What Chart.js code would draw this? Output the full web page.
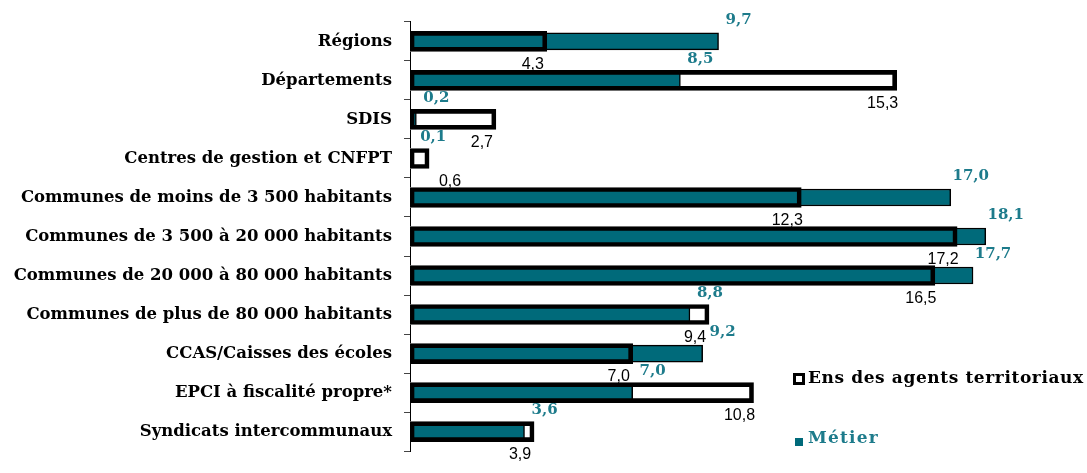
<!DOCTYPE html>
<html>
<head>
<meta charset="utf-8">
<script src="https://cdn.jsdelivr.net/npm/chart.js@4"></script>
<style>
  html, body { margin: 0; padding: 0; background: #fff; }
</style>
</head>
<body>
<canvas id="metierChart" width="1087" height="473"></canvas>
<script>
// data (%)
const categories = [
  'Régions',
  'Départements',
  'SDIS',
  'Centres de gestion et CNFPT',
  'Communes de moins de 3 500 habitants',
  'Communes de 3 500 à 20 000 habitants',
  'Communes de 20 000 à 80 000 habitants',
  'Communes de plus de 80 000 habitants',
  'CCAS/Caisses des écoles',
  'EPCI à fiscalité propre*',
  'Syndicats intercommunaux'
];
const ensAgents = [4.3, 15.3, 2.7, 0.6, 12.3, 17.2, 16.5, 9.4, 7.0, 10.8, 3.9];
const metier = [9.7, 8.5, 0.2, 0.1, 17.0, 18.1, 17.7, 8.8, 9.2, 7.0, 3.6];
const seriesNames = ['Ens des agents territoriaux', 'Métier'];

const TEAL = '#006a7a';
const TEAL_TEXT = '#1d7b8b';
const serif = '"DejaVu Serif", "Liberation Serif", serif';

function fmt(v) {
  return v.toFixed(1).replace('.', ',');
}

// value labels: black under the white bars, teal above the teal bars
const valueLabels = {
  id: 'valueLabels',
  afterDatasetsDraw(chart) {
    const ctx = chart.ctx;
    const x0 = chart.scales.x.getPixelForValue(0);
    ctx.save();
    ctx.textAlign = 'center';
    ctx.textBaseline = 'middle';
    ctx.font = '16px "Liberation Sans", Arial, sans-serif';
    ctx.fillStyle = '#000';
    chart.getDatasetMeta(0).data.forEach((bar, i) => {
      ctx.fillText(fmt(ensAgents[i]), Math.max(bar.x - 14, x0 + 40), bar.y + 23);
    });
    ctx.font = 'bold 15px ' + serif;
    ctx.fillStyle = TEAL_TEXT;
    chart.getDatasetMeta(1).data.forEach((bar, i) => {
      ctx.fillText(fmt(metier[i]), bar.x + 20, bar.y - 21);
    });
    ctx.restore();
  }
};

// legend sits in the lower right corner of the plot
const cornerLegend = {
  id: 'cornerLegend',
  afterDraw(chart) {
    const ctx = chart.ctx;
    ctx.save();
    ctx.textBaseline = 'middle';
    ctx.textAlign = 'left';
    ctx.font = 'bold 17px ' + serif;
    ctx.letterSpacing = '0.6px';

    ctx.fillStyle = '#000';
    ctx.fillRect(793, 373, 12, 12);
    ctx.fillStyle = '#fff';
    ctx.fillRect(796, 376, 6, 6);
    ctx.fillStyle = '#000';
    ctx.fillText(seriesNames[0], 808, 379);

    ctx.fillStyle = TEAL;
    ctx.fillRect(795, 438, 8, 8);
    ctx.fillStyle = TEAL_TEXT;
    ctx.letterSpacing = '1.2px';
    ctx.fillText(seriesNames[1], 808, 439);
    ctx.restore();
  }
};

const metierChart = new Chart(document.getElementById('metierChart'), {
  type: 'bar',
  data: {
    labels: categories,
    datasets: [
      {
        label: seriesNames[0],
        data: ensAgents,
        backgroundColor: '#fff',
        borderWidth: 0,
        barThickness: 20,
        grouped: false,
        order: 3
      },
      {
        label: seriesNames[1],
        data: metier,
        backgroundColor: TEAL,
        borderColor: '#000',
        borderWidth: 1.5,
        borderSkipped: false,
        barThickness: 17,
        grouped: false,
        order: 2
      },
      {
        // thick black frame of the first series, drawn over the teal bars
        label: 'frame',
        data: ensAgents,
        backgroundColor: 'rgba(0,0,0,0)',
        borderColor: '#000',
        borderWidth: 4,
        borderSkipped: false,
        barThickness: 20,
        grouped: false,
        order: 1
      }
    ]
  },
  options: {
    indexAxis: 'y',
    responsive: false,
    animation: false,
    layout: {
      padding: { left: 0, right: 9, top: 19, bottom: 14 }
    },
    plugins: {
      legend: { display: false },
      tooltip: { enabled: false }
    },
    scales: {
      x: {
        display: false,
        min: 0,
        max: 21
      },
      y: {
        afterFit(scale) {
          scale.width = 410;
        },
        border: { display: true, color: '#000', width: 1 },
        grid: {
          offset: true,
          drawOnChartArea: false,
          drawTicks: true,
          tickLength: 6,
          color: '#444'
        },
        ticks: {
          padding: 12,
          color: '#000',
          font: { family: serif, weight: 'bold', size: 16.5 }
        }
      }
    }
  },
  plugins: [valueLabels, cornerLegend]
});
</script>
</body>
</html>
